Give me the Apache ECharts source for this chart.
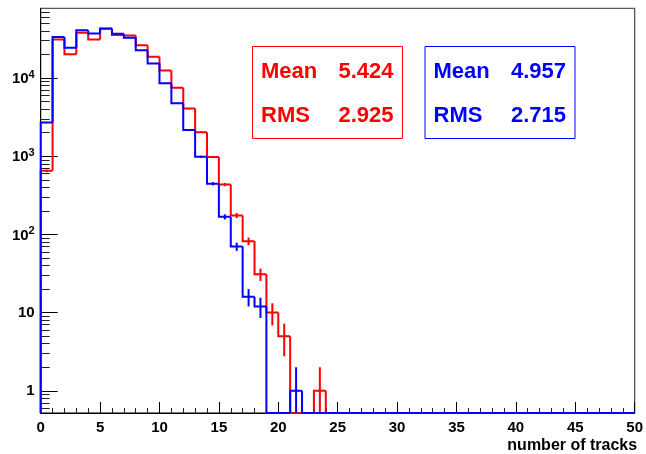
<!DOCTYPE html>
<html>
<head>
<meta charset="utf-8">
<script src="https://cdn.jsdelivr.net/npm/echarts@6/dist/echarts.min.js"></script>
<style>
html,body{margin:0;padding:0;background:#fff;}
#chart{width:646px;height:454px;}
</style>
</head>
<body>
<div id="chart"></div>
<script>
// ---- data (bins of width 1, from 0 to 50) ----
const binLowEdges = [0,1,2,3,4,5,6,7,8,9,10,11,12,13,14,15,16,17,18,19,20,21,22,23,24,25,26,27,28,29,30,31,32,33,34,35,36,37,38,39,40,41,42,43,44,45,46,47,48,49];
const redCounts  = [650,31200,20100,38000,31200,42700,35500,35100,26200,18700,12500,7530,4070,2030,975,435,175,82,31,10,5,0,0,1,0,0,0,0,0,0,0,0,0,0,0,0,0,0,0,0,0,0,0,0,0,0,0,0,0,0];
const blueCounts = [2700,33400,24400,41000,37200,43100,36900,32800,22600,15400,8550,4750,2170,985,445,168,70,16,12,0,0,1,0,0,0,0,0,0,0,0,0,0,0,0,0,0,0,0,0,0,0,0,0,0,0,0,0,0,0,0];

const yMajorTicks = [1,10,100,1000,10000];
const yTickLabels = ['{n|1}','{n|10}','{b|10}{s|2}','{b|10}{s|3}','{b|10}{s|4}'];
const yMinorTicks = [0.6,0.7,0.8,0.9,2,3,4,5,6,7,8,9,20,30,40,50,60,70,80,90,200,300,400,500,600,700,800,900,2000,3000,4000,5000,6000,7000,8000,9000,20000,30000,40000,50000,60000,70000];
const xTitle = 'number of tracks';
const statNames = ['Mean','RMS'];
const redStats  = ['5.424','2.925'];
const blueStats = ['4.957','2.715'];

const Y_MIN = 0.52, Y_MAX = 78000;
const FONT = '"Liberation Sans", Arial, Helvetica, sans-serif';
const RED = '#ff0000', BLUE = '#0000ff';

function histSeries(name, counts, color, z) {
  return {
    type: 'custom',
    name: name,
    z: z,
    xAxisIndex: 0,
    yAxisIndex: 0,
    data: binLowEdges.map((x, i) => [x, counts[i]]),
    encode: {x: 0, y: 1},
    renderItem: function (params, api) {
      const i = params.dataIndex;
      const x0 = binLowEdges[i];
      const v = counts[i];
      const prev = i > 0 ? counts[i - 1] : 0;
      const yv = Math.max(v, Y_MIN), yp = Math.max(prev, Y_MIN);
      const pts = [api.coord([x0, yp]), api.coord([x0, yv]), api.coord([x0 + 1, yv])];
      if (i === counts.length - 1) pts.push(api.coord([x0 + 1, Y_MIN]));
      const children = [{
        type: 'polyline',
        shape: {points: pts},
        style: {stroke: color, lineWidth: 2, fill: null, lineJoin: 'miter'}
      }];
      if (v > 0) {
        const e = Math.sqrt(v);
        const top = api.coord([x0 + 0.5, v + e]);
        const bot = api.coord([x0 + 0.5, Math.max(v - e, Y_MIN)]);
        children.push({
          type: 'line',
          shape: {x1: top[0], y1: top[1], x2: bot[0], y2: bot[1]},
          style: {stroke: color, lineWidth: 2}
        });
      }
      return {type: 'group', children: children};
    }
  };
}

function statBox(x, color, values) {
  const els = [{
    type: 'rect',
    shape: {x: x, y: 46.5, width: 150, height: 92},
    style: {fill: '#fff', stroke: color, lineWidth: 1},
    z: 10
  }];
  const rowsY = [71.5, 115.5];
  statNames.forEach((nm, k) => {
    els.push({type: 'text', x: x + 8.5, y: rowsY[k], z: 11,
      style: {text: nm, fill: color, font: 'bold 22px ' + FONT, textAlign: 'left', textVerticalAlign: 'middle'}});
    els.push({type: 'text', x: x + 141, y: rowsY[k], z: 11,
      style: {text: values[k], fill: color, font: 'bold 22px ' + FONT, textAlign: 'right', textVerticalAlign: 'middle'}});
  });
  return els;
}

const chart = echarts.init(document.getElementById('chart'), null, {renderer: 'canvas'});
chart.setOption({
  animation: false,
  backgroundColor: '#fff',
  grid: {left: 40.7, right: 7.7, top: 8.3, bottom: 39.7, show: true, borderColor: '#555', borderWidth: 1.3, backgroundColor: 'transparent'},
  xAxis: {
    type: 'value', min: 0, max: 50, interval: 5,
    axisLine: {show: true, onZero: false, lineStyle: {color: '#000', width: 1}},
    axisTick: {show: true, inside: true, length: 11, lineStyle: {color: '#000', width: 1}},
    minorTick: {show: true, splitNumber: 5, length: 5, lineStyle: {color: '#222', width: 1}},
    axisLabel: {fontFamily: FONT, fontSize: 15, fontWeight: 'bold', color: '#000', margin: 7},
    splitLine: {show: false},
    minorSplitLine: {show: false},
    name: xTitle, nameLocation: 'end', nameGap: 2.5,
    nameTextStyle: {fontFamily: FONT, fontSize: 16, fontWeight: 'bold', color: '#000', align: 'right', verticalAlign: 'top', padding: [25, 0, 0, 0]}
  },
  yAxis: [{
    type: 'log', logBase: 10, min: Y_MIN, max: Y_MAX, position: 'left',
    axisLine: {show: true, lineStyle: {color: '#000', width: 1}},
    axisTick: {show: true, inside: true, length: 17, customValues: yMajorTicks, lineStyle: {color: '#000', width: 1}},
    axisLabel: {
      customValues: yMajorTicks, margin: 6, color: '#000',
      fontFamily: FONT, fontSize: 15, fontWeight: 'bold',
      formatter: function (v) { return yTickLabels[Math.round(Math.log10(v))]; },
      rich: {
        n: {fontFamily: FONT, fontSize: 15, fontWeight: 'bold', color: '#000', lineHeight: 15},
        b: {fontFamily: FONT, fontSize: 15, fontWeight: 'bold', color: '#000', lineHeight: 17, verticalAlign: 'bottom'},
        s: {fontFamily: FONT, fontSize: 11, fontWeight: 'bold', color: '#000', lineHeight: 11, verticalAlign: 'top'}
      }
    },
    splitLine: {show: false}
  }, {
    type: 'log', logBase: 10, min: Y_MIN, max: Y_MAX, position: 'left',
    axisLine: {show: false},
    axisTick: {show: true, inside: true, length: 9, customValues: yMinorTicks, lineStyle: {color: '#222', width: 1}},
    axisLabel: {show: false},
    splitLine: {show: false}
  }],
  series: [
    histSeries('red', redCounts, RED, 2),
    histSeries('blue', blueCounts, BLUE, 3)
  ],
  graphic: [].concat(statBox(252.5, RED, redStats), statBox(425, BLUE, blueStats))
});
</script>
</body>
</html>
